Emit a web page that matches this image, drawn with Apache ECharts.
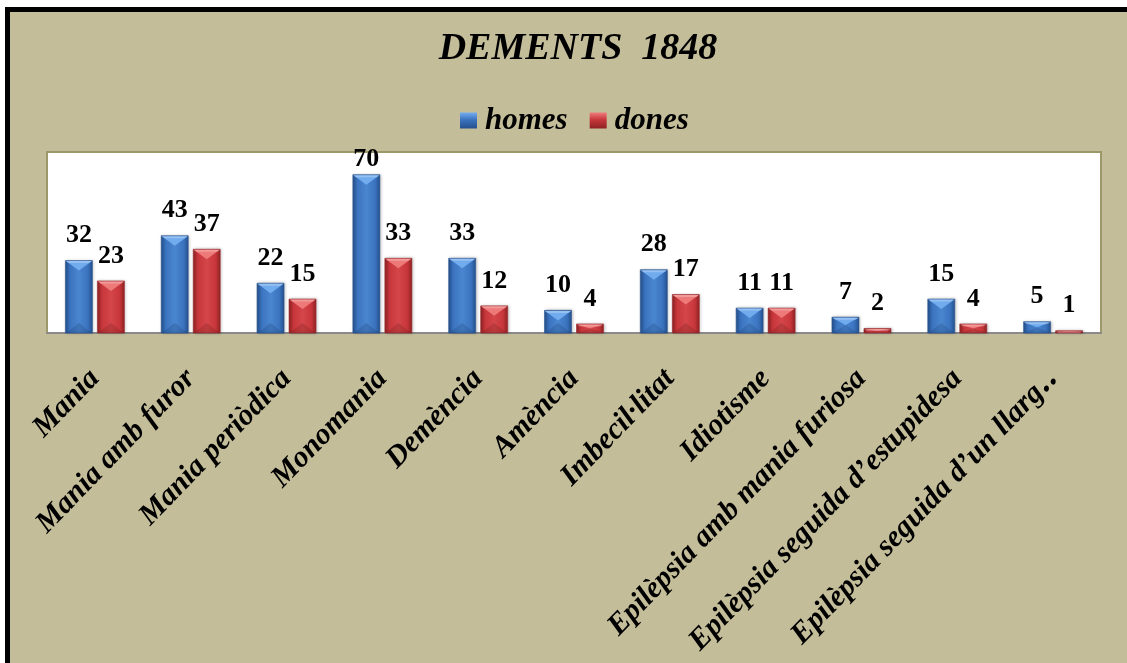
<!DOCTYPE html>
<html>
<head>
<meta charset="utf-8">
<style>
  html, body { margin: 0; padding: 0; background: #ffffff; }
  #chart { width: 1127px; height: 663px; }
</style>
<script src="https://cdn.jsdelivr.net/npm/echarts@6/dist/echarts.min.js"></script>
</head>
<body>
<div id="chart"></div>
<script>
// Patients per diagnosis, 1848
const categories = [
  'Mania', 'Mania amb furor', 'Mania periòdica', 'Monomania', 'Demència',
  'Amència', 'Imbecil·litat', 'Idiotisme', 'Epilèpsia amb mania furiosa',
  'Epilèpsia seguida d’estupidesa', 'Epilèpsia seguida d’un llarg‥'
];
const homes = [32, 43, 22, 70, 33, 10, 28, 11, 7, 15, 5];
const dones = [23, 37, 15, 33, 12, 4, 17, 11, 2, 4, 1];
const seriesNames = ['homes', 'dones'];

const SERIF = '"Liberation Serif", "DejaVu Serif", serif';
const BAR_W = 27;
const GAP = 5;
const GRID = { left: 47, right: 26, top: 152, bottom: 330 };

const palettes = [
  { edge: '#24508c', body: '#3b73bf', mid: '#4a86d0', cap: '#74aef0', foot: '#1d3f70', stroke: '#2a5590' },
  { edge: '#8e2224', body: '#c7363a', mid: '#d4464a', cap: '#ef7c7c', foot: '#6e1a1b', stroke: '#9a2a2c' }
];

function bodyFill(p) {
  return new echarts.graphic.LinearGradient(0, 0, 1, 0, [
    { offset: 0, color: p.edge },
    { offset: 0.18, color: p.body },
    { offset: 0.5, color: p.mid },
    { offset: 0.82, color: p.body },
    { offset: 1, color: p.edge }
  ]);
}

function iconFill(p) {
  return new echarts.graphic.LinearGradient(0, 0, 0, 1, [
    { offset: 0, color: p.cap },
    { offset: 0.45, color: p.body },
    { offset: 1, color: p.edge }
  ]);
}

function makeRenderer(idx) {
  const p = palettes[idx];
  return function (params, api) {
    const cat = api.value(0);
    const val = api.value(1);
    const base = api.coord([cat, 0]);
    const top = api.coord([cat, val]);
    const x = base[0] + (idx === 0 ? -(BAR_W + GAP / 2) : GAP / 2);
    const y = top[1];
    const h = base[1] - top[1];
    const b = Math.min(10, h / 2);
    const gridTop = params.coordSys.y;
    const labelBottom = Math.max(y - 12, gridTop + 20);
    return {
      type: 'group',
      children: [
        {
          type: 'rect',
          shape: { x: x, y: y, width: BAR_W, height: h },
          style: { fill: bodyFill(p), stroke: p.stroke, lineWidth: 0.6,
                   shadowBlur: 3, shadowColor: 'rgba(0,0,0,0.25)', shadowOffsetX: 1 }
        },
        {
          type: 'polygon',
          shape: { points: [[x + 0.5, y + 0.5], [x + BAR_W - 0.5, y + 0.5], [x + BAR_W / 2, y + b]] },
          style: { fill: p.cap, opacity: 0.95 }
        },
        {
          type: 'polygon',
          shape: { points: [[x + 0.5, y + 0.5], [x + BAR_W - 0.5, y + 0.5], [x + BAR_W - 3, y + 2.5], [x + 3, y + 2.5]] },
          style: { fill: '#ffffff', opacity: 0.25 }
        },
        {
          type: 'polygon',
          shape: { points: [[x + 0.5, base[1]], [x + BAR_W - 0.5, base[1]], [x + BAR_W / 2, base[1] - b]] },
          style: { fill: p.foot, opacity: 0.25 }
        },
        {
          type: 'text',
          style: {
            text: String(val),
            x: x + BAR_W / 2,
            y: labelBottom,
            align: 'center',
            verticalAlign: 'bottom',
            fill: '#000',
            font: 'bold 26px ' + SERIF
          },
          z2: 10
        }
      ]
    };
  };
}

function seriesData(values) {
  return values.map(function (v, i) { return [i, v]; });
}

const chart = echarts.init(document.getElementById('chart'));
chart.setOption({
  backgroundColor: '#c4bd99',
  animation: false,
  title: {
    text: 'DEMENTS  1848',
    left: 573,
    textAlign: 'center',
    top: 25,
    textStyle: { fontFamily: SERIF, fontStyle: 'italic', fontWeight: 'bold', fontSize: 38, color: '#000' }
  },
  legend: {
    data: seriesNames,
    left: 455,
    top: 100,
    icon: 'rect',
    itemWidth: 17,
    itemHeight: 16,
    itemGap: 22,
    textStyle: { fontFamily: SERIF, fontStyle: 'italic', fontWeight: 'bold', fontSize: 31, color: '#000', padding: [0, 0, 0, 3] }
  },
  grid: {
    left: GRID.left, right: GRID.right, top: GRID.top, bottom: GRID.bottom,
    show: true, backgroundColor: '#ffffff', borderColor: '#9c986a', borderWidth: 2,
    containLabel: false
  },
  xAxis: {
    type: 'category',
    data: categories,
    axisLine: { lineStyle: { color: '#8a8a8a', width: 2 } },
    axisTick: { show: false },
    axisLabel: {
      interval: 0,
      rotate: 46,
      margin: 41,
      fontFamily: SERIF,
      fontStyle: 'italic',
      fontWeight: 'bold',
      fontSize: 30,
      color: '#000'
    }
  },
  yAxis: {
    type: 'value',
    min: 0,
    max: 80,
    show: false,
    splitLine: { show: false }
  },
  graphic: [
    { type: 'rect', shape: { x: 0, y: 0, width: 1127, height: 7 }, style: { fill: '#ffffff' }, silent: true },
    { type: 'rect', shape: { x: 0, y: 0, width: 5, height: 663 }, style: { fill: '#ffffff' }, silent: true },
    { type: 'rect', shape: { x: 7.5, y: 9.5, width: 1400, height: 1000 },
      style: { fill: 'none', stroke: '#000', lineWidth: 5 }, silent: true }
  ],
  series: [
    {
      name: seriesNames[0],
      type: 'custom',
      renderItem: makeRenderer(0),
      encode: { x: 0, y: 1 },
      itemStyle: { color: iconFill(palettes[0]) },
      data: seriesData(homes)
    },
    {
      name: seriesNames[1],
      type: 'custom',
      renderItem: makeRenderer(1),
      encode: { x: 0, y: 1 },
      itemStyle: { color: iconFill(palettes[1]) },
      data: seriesData(dones)
    }
  ]
});
</script>
</body>
</html>
